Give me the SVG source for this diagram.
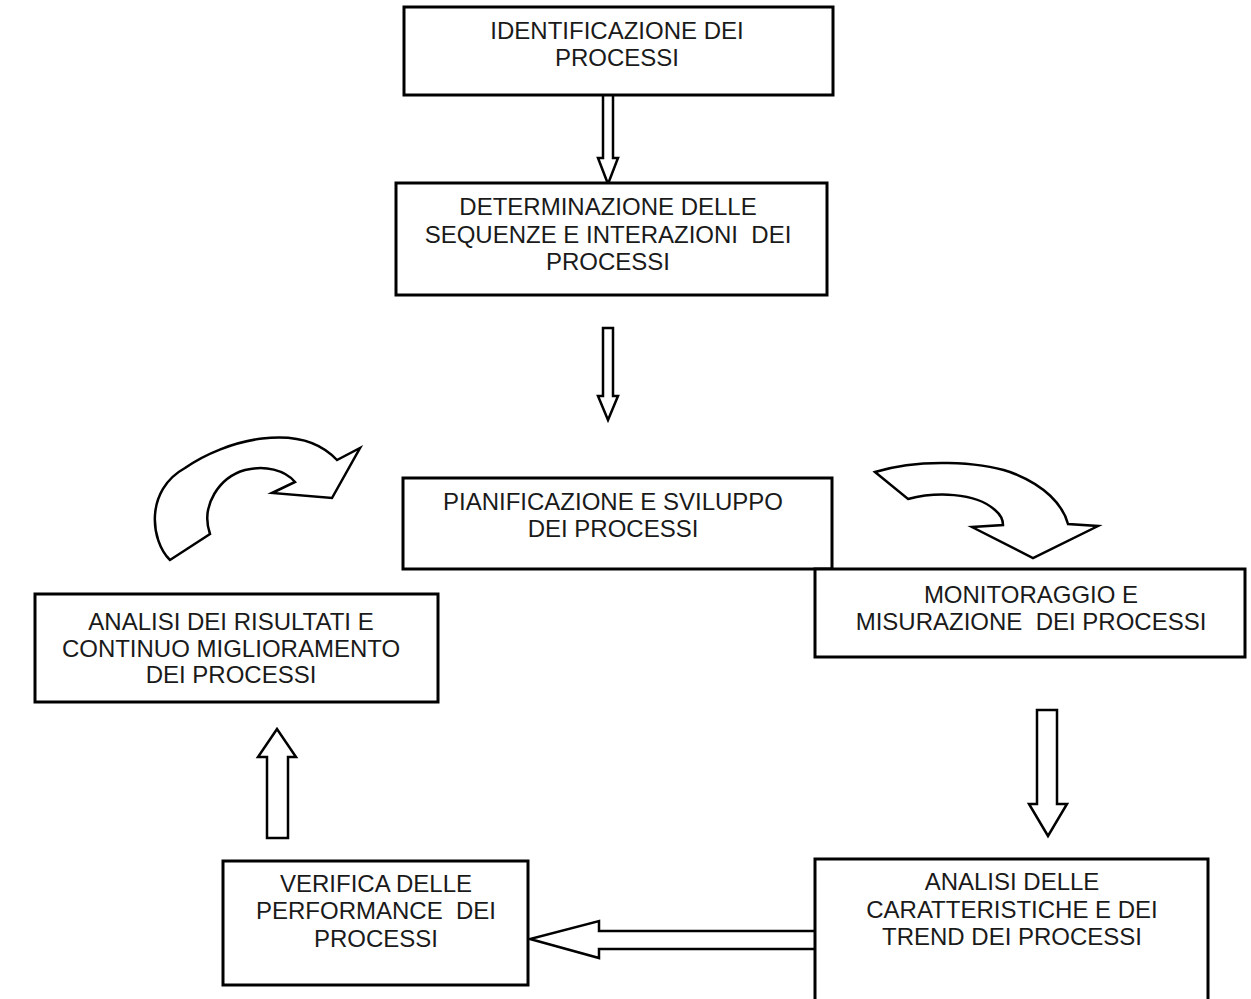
<svg xmlns="http://www.w3.org/2000/svg" width="1251" height="999" viewBox="0 0 1251 999">
<style>
.box{fill:#fff;stroke:#000;stroke-width:3}
.arr{fill:#fff;stroke:#000;stroke-width:2.5;stroke-linejoin:miter}
text{font-family:"Liberation Sans",Arial,sans-serif;font-size:24px;fill:#1a1a1a;text-anchor:middle;white-space:pre}
</style>
<rect width="1251" height="999" fill="#fff"/>
<g id="connectors">
<path class="arr" d="M603,95 L603,158 L598,158 L608,184 L618,158 L613,158 L613,95"/>
<path class="arr" d="M603,328 L603,396 L598,396 L608,420 L618,396 L613,396 L613,328 Z"/>
<path class="arr" d="M1037,710 L1037,804 L1029,804 L1048,836 L1067,804 L1057,804 L1057,710 Z"/>
<path class="arr" d="M815,931 L599,931 L599,921 L530,939 L599,958 L599,949 L815,949"/>
<path class="arr" d="M267,838 L267,757 L258,757 L277,729 L296,757 L288,757 L288,838 Z"/>
<path class="arr" d="M170,560 C150,540 145,490 185,468 C225,440 300,420 337,460 L360,448 L332,498 L272,493 L295,482 C285,470 265,465 245,470 C220,477 200,505 210,534 Z"/>
<path class="arr" d="M875,472 L908,499 C935,492 975,492 995,510 C1001,515 1003,520 1003,525 L972,527 L1033,558 L1098,526 L1068,524 C1063,505 1045,485 1010,472 C980,462 920,458 875,472 Z"/>
</g>
<g id="n1">
<rect class="box" x="404" y="7" width="429" height="88"/>
<text x="617" y="39">IDENTIFICAZIONE DEI</text>
<text x="617" y="66">PROCESSI</text>
</g>
<g id="n2">
<rect class="box" x="396" y="183" width="431" height="112"/>
<text x="608" y="215">DETERMINAZIONE DELLE</text>
<text x="608" y="243" xml:space="preserve">SEQUENZE E INTERAZIONI  DEI</text>
<text x="608" y="270">PROCESSI</text>
</g>
<g id="n3">
<rect class="box" x="403" y="478" width="429" height="91"/>
<text x="613" y="510">PIANIFICAZIONE E SVILUPPO</text>
<text x="613" y="537">DEI PROCESSI</text>
</g>
<g id="n4">
<rect class="box" x="815" y="569" width="430" height="88"/>
<text x="1031" y="603">MONITORAGGIO E</text>
<text x="1031" y="630" xml:space="preserve">MISURAZIONE  DEI PROCESSI</text>
</g>
<g id="n5">
<rect class="box" x="35" y="594" width="403" height="108"/>
<text x="231" y="630">ANALISI DEI RISULTATI E</text>
<text x="231" y="657">CONTINUO MIGLIORAMENTO</text>
<text x="231" y="683">DEI PROCESSI</text>
</g>
<g id="n6">
<rect class="box" x="223" y="861" width="305" height="124"/>
<text x="376" y="892">VERIFICA DELLE</text>
<text x="376" y="919" xml:space="preserve">PERFORMANCE  DEI</text>
<text x="376" y="947">PROCESSI</text>
</g>
<g id="n7">
<rect class="box" x="815" y="859" width="393" height="150"/>
<text x="1012" y="890">ANALISI DELLE</text>
<text x="1012" y="918">CARATTERISTICHE E DEI</text>
<text x="1012" y="945">TREND DEI PROCESSI</text>
</g>
</svg>
